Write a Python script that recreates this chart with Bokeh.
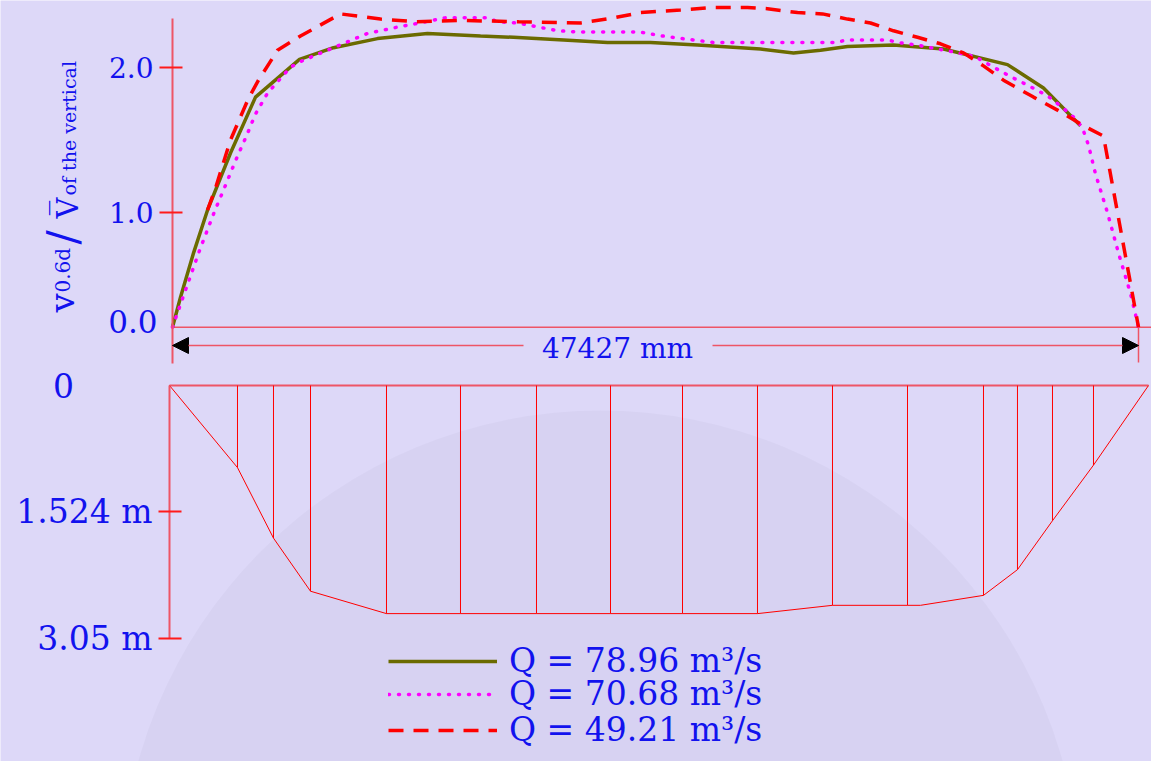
from math import pi
from bokeh.plotting import figure
from bokeh.models import (Range1d, FixedTicker, Label, Arrow, NormalHead, Legend,
                          LegendItem, LinearAxis)
from bokeh.embed import file_html
from bokeh.resources import INLINE

# ---------------- data ----------------
width_mm = 47427

olive_x = [0, 393, 1031, 1718, 2848, 4075, 6235, 7904, 10065, 12519, 15122, 16742,
           19197, 21357, 23468, 25775, 28868, 30489, 31814, 33140, 35398, 37853,
           40995, 42763, 44579]
olive_v = [0.00, 0.23, 0.57, 0.90, 1.34, 1.77, 2.06, 2.15, 2.22, 2.26, 2.24, 2.23,
           2.21, 2.19, 2.19, 2.17, 2.14, 2.11, 2.13, 2.16, 2.17, 2.14,
           2.02, 1.84, 1.55]

magenta_x = [0, 491, 1326, 2062, 2651, 3093, 3682, 4075, 4664, 5793, 6382, 7904, 9574,
             11096, 12127, 13403, 15465, 15956, 16938, 17920, 18951, 19982, 22977,
             24057, 25039, 26070, 26561, 32649, 33042, 35104, 35595, 36577, 37558,
             38590, 39424, 40308, 41241, 42124, 42959, 43695, 44432, 44726, 44972,
             45315, 45905, 46445, 47034, 47427]
magenta_v = [0.00, 0.22, 0.59, 0.89, 1.11, 1.28, 1.49, 1.64, 1.80, 2.00, 2.05, 2.15, 2.26,
             2.31, 2.34, 2.38, 2.38, 2.35, 2.34, 2.31, 2.28, 2.27, 2.27,
             2.24, 2.22, 2.20, 2.19, 2.19, 2.21, 2.21, 2.19, 2.17, 2.14,
             2.11, 2.08, 2.00, 1.92, 1.85, 1.78, 1.69, 1.59, 1.51, 1.40,
             1.18, 0.88, 0.57, 0.26, 0.00]

red_x = [1718, 2111, 2848, 3731, 4222, 5155, 6284, 8248, 10212, 12000, 14140, 17000,
         20031, 21651, 22977, 24941, 26561, 28230, 29212, 30685, 31912, 33140,
         34269, 35398, 36576, 37706, 38835, 39817, 40799, 42272, 43450, 44726,
         45708, 47427]
red_v = [0.90, 1.07, 1.44, 1.76, 1.90, 2.13, 2.24, 2.41, 2.37, 2.35, 2.36, 2.35,
         2.34, 2.38, 2.42, 2.44, 2.46, 2.46, 2.45, 2.42, 2.41, 2.37,
         2.34, 2.28, 2.23, 2.18, 2.11, 2.01, 1.90, 1.77, 1.67, 1.55,
         1.47, 0.00]

bed_x = [0, 3294, 5038, 6831, 10512, 14097, 17779, 21364, 24852, 28485, 32118, 35752,
         36381, 39433, 41080, 42776, 44762, 47427]
bed_depth = [0.00, 0.99, 1.84, 2.48, 2.75, 2.75, 2.75, 2.75, 2.75, 2.75, 2.65, 2.65,
             2.65, 2.53, 2.22, 1.63, 0.96, 0.00]

station_x = [3294, 5038, 6831, 10512, 14097, 17779, 21364, 24852, 28485, 32118, 35752,
             39433, 41080, 42776, 44762]
station_depth = [0.99, 1.84, 2.48, 2.75, 2.75, 2.75, 2.75, 2.75, 2.75, 2.65, 2.65,
                 2.53, 2.22, 1.63, 0.96]

q_labels = ["Q = 78.96 m³/s", "Q = 70.68 m³/s", "Q = 49.21 m³/s"]
ratio_ticks = [0.88, 2.0]
ratio_tick_labels = ["1.0", "2.0"]
depth_ticks = [1.524, 3.05]
depth_tick_labels = ["1.524 m", "3.05 m"]

# ---------------- style ----------------
BG = "#ddd8f8"
BLUE = "#1212ee"
AXIS = "#ee5566"
TICK = "#ff1a1a"
OLIVE = "#6b6b00"
FONT = "DejaVu Serif"

W = 1151
H = 761

# placement helpers: page pixel -> data units of each panel
MMPX_T = width_mm / 966.0
def tx(px):
    return (px - 172) * MMPX_T
def ty(py):
    return (326.7 - py) / 130.0

MMPX_B = width_mm / 979.0
def bx(px):
    return (px - 169) * MMPX_B
def by(py):
    return (py - 385) / 82.95

p = figure(width=W, height=H, output_backend="svg", toolbar_location=None,
           x_range=Range1d(tx(0), tx(W)), y_range=Range1d(ty(H), ty(0)),
           x_axis_location=None, y_axis_location=None,
           min_border_left=0, min_border_right=0, min_border_top=0, min_border_bottom=0,
           background_fill_color=BG, border_fill_color=BG, outline_line_color=None)
p.extra_x_ranges = {"bot": Range1d(bx(0), bx(W))}
p.extra_y_ranges = {"depth": Range1d(by(H), by(0))}
p.grid.visible = False

# faint globe decoration
p.circle(x=[bx(600)], y=[by(890)], radius=480 * MMPX_B, fill_color="black",
         fill_alpha=0.025, line_color=None, level="underlay",
         x_range_name="bot", y_range_name="depth")

def style_axis(a, size, tin, tout):
    a.axis_line_color = AXIS
    a.axis_line_width = 2
    a.major_tick_line_color = TICK
    a.major_tick_line_width = 2
    a.major_tick_in = tin
    a.major_tick_out = tout
    a.minor_tick_line_color = None
    a.major_label_text_font = FONT
    a.major_label_text_font_size = size
    a.major_label_text_color = BLUE
    a.major_label_standoff = 6

# ---------------- top panel: velocity ratio ----------------
ax_top = LinearAxis(fixed_location=0, bounds=(ty(363), ty(18)),
                    ticker=FixedTicker(ticks=ratio_ticks),
                    major_label_overrides=dict(zip(ratio_ticks, ratio_tick_labels)))
style_axis(ax_top, "28px", 10, 13)
p.add_layout(ax_top, "left")

p.segment(x0=[0], y0=[0], x1=[tx(W)], y1=[0], line_color=AXIS, line_width=1.5)
p.segment(x0=[width_mm], y0=[0], x1=[width_mm], y1=[ty(362)], line_color=AXIS,
          line_width=1.5)

r_olive = p.line(olive_x, olive_v, line_color=OLIVE, line_width=3.5)
r_mag = p.line(magenta_x, magenta_v, line_color="#ff00ff", line_width=3.5,
               line_dash="1 9", line_cap="round")
r_red = p.line(red_x, red_v, line_color="#ff0000", line_width=3.5, line_dash="15 10")

# dimension line
yd = ty(345)
for xs, xe in ((tx(523), 0), (tx(712), width_mm)):
    p.add_layout(Arrow(x_start=xs, y_start=yd, x_end=xe, y_end=yd, start=None,
                       end=NormalHead(size=16, fill_color="black", line_color="black"),
                       line_color=AXIS, line_width=1.5))
p.add_layout(Label(x=tx(617), y=ty(348), text=f"{width_mm} mm", text_align="center",
                   text_baseline="middle", text_font=FONT, text_font_size="28px",
                   text_color=BLUE))

p.add_layout(Label(x=tx(157), y=ty(321), text="0.0", text_align="right",
                   text_baseline="middle", text_font=FONT, text_font_size="31px",
                   text_color=BLUE))

def rlabel(text, px, py, size, baseline="alphabetic"):
    p.add_layout(Label(x=tx(px), y=ty(py), text=text, angle=pi / 2, text_align="left",
                       text_baseline=baseline, text_font=FONT,
                       text_font_size=size, text_color=BLUE))

rlabel("v", 61, 312, "34px")
rlabel("0.6d", 62, 292, "20px")
rlabel("/", 61.5, 244, "42px", "middle")
rlabel("V\u0305", 67, 218, "29px")
rlabel("of the vertical", 68, 195, "19px")

# ---------------- bottom panel: cross-section ----------------
ax_bot = LinearAxis(x_range_name="bot", y_range_name="depth", fixed_location=0,
                    bounds=(0, 3.05), ticker=FixedTicker(ticks=depth_ticks),
                    major_label_overrides=dict(zip(depth_ticks, depth_tick_labels)))
style_axis(ax_bot, "33px", 12, 11)
p.add_layout(ax_bot, "left")

p.add_layout(Label(x=bx(63), y=0, text="0", text_align="center", text_baseline="middle",
                   text_font=FONT, text_font_size="33px", text_color=BLUE,
                   x_range_name="bot", y_range_name="depth"))

p.segment(x0=[0], y0=[0], x1=[width_mm], y1=[0], line_color=AXIS, line_width=2,
          x_range_name="bot", y_range_name="depth")
p.line(bed_x, bed_depth, line_color="#ff0000", line_width=1,
       x_range_name="bot", y_range_name="depth")
p.segment(x0=station_x, y0=[0] * len(station_x), x1=station_x, y1=station_depth,
          line_color="#ff0000", line_width=1, x_range_name="bot", y_range_name="depth")

# legend: one single-item legend per row so the row pitch matches the reference
for lab, rend, yloc in zip(q_labels, (r_olive, r_mag, r_red), (81, 48, 12)):
    lg = Legend(items=[LegendItem(label=lab, renderers=[rend])],
                location=(388, yloc), orientation="vertical", glyph_width=109,
                glyph_height=30, label_height=30, label_standoff=12,
                padding=0, margin=0, background_fill_alpha=0, border_line_alpha=0,
                label_text_font=FONT, label_text_font_size="33px",
                label_text_color=BLUE)
    p.add_layout(lg)

html = file_html(p, INLINE)
html = html.replace("<body", '<body style="background:%s;"' % BG, 1)
open("out.html", "w").write(html)
